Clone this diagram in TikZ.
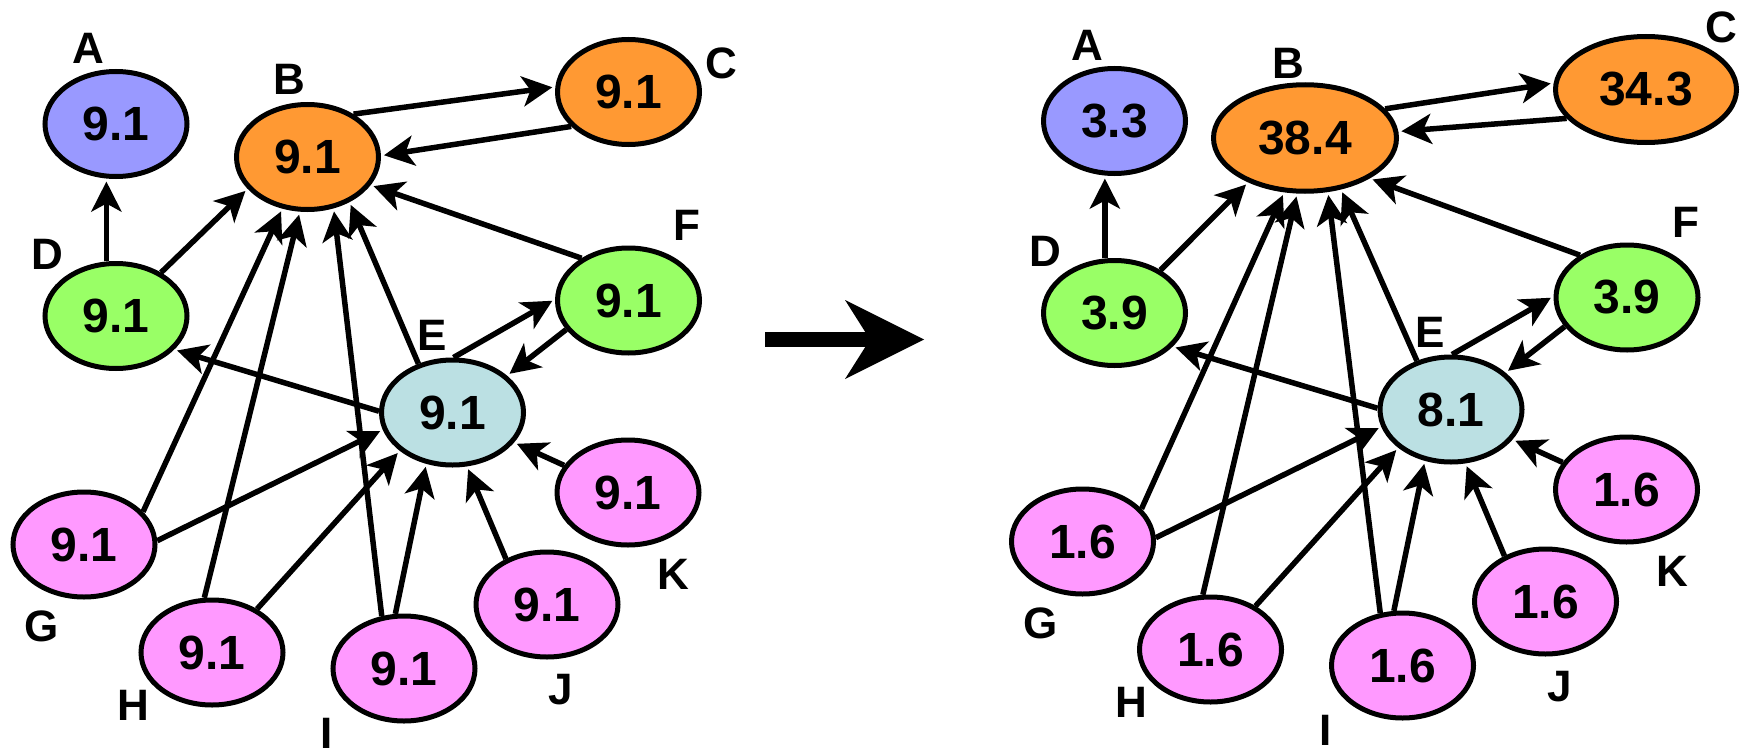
\documentclass[tikz,border=0pt]{standalone}
\usepackage{fontspec}
\setmainfont{Liberation Sans}
\usetikzlibrary{arrows.meta,shapes.geometric}
\definecolor{cA}{HTML}{9999FF}
\definecolor{cB}{HTML}{FF9933}
\definecolor{cD}{HTML}{99FF66}
\definecolor{cE}{HTML}{BBE0E3}
\definecolor{cG}{HTML}{FF99FF}
\begin{document}
\begin{tikzpicture}[x=1pt,y=-1pt,
  nd/.style={ellipse, draw=black, line width=5pt, inner sep=0pt,
    minimum width=142pt, minimum height=105pt,
    font=\fontsize{48}{48}\selectfont\bfseries},
  lbl/.style={inner sep=0pt, font=\fontsize{44}{44}\selectfont\bfseries},
  edge/.style={line width=5.5pt, shorten >=3pt,
    -{Stealth[length=30pt,width=30pt,inset=8pt]}}]
\useasboundingbox (0,0) rectangle (1742,752);

% ---------- left graph ----------
\node[nd, fill=cA] (LA) at (116,124) {9.1};
\node[nd, fill=cB] (LB) at (307.5,157) {9.1};
\node[nd, fill=cB] (LC) at (628.5,92) {9.1};
\node[nd, fill=cD] (LD) at (116,316) {9.1};
\node[nd, fill=cE] (LE) at (452.5,412.5) {9.1};
\node[nd, fill=cD] (LF) at (628.5,300.5) {9.1};
\node[nd, fill=cG] (LG) at (84,544.5) {9.1};
\node[nd, fill=cG] (LH) at (212,652.5) {9.1};
\node[nd, fill=cG] (LI) at (404,668.5) {9.1};
\node[nd, fill=cG] (LJ) at (547,604.5) {9.1};
\node[nd, fill=cG] (LK) at (628,492.5) {9.1};

\node[lbl] (lLA) at (88.5,48) {A};
\node[lbl] (lLB) at (289.5,79) {B};
\node[lbl] (lLC) at (721,63) {C};
\node[lbl] (lLD) at (47,254) {D};
\node[lbl] (lLE) at (432,335) {E};
\node[lbl] (lLF) at (687,225.5) {F};
\node[lbl] (lLG) at (41.7,626.7) {G};
\node[lbl] (lLH) at (133,705.5) {H};
\node[lbl] (lLI) at (327,733) {I};
\node[lbl] (lLJ) at (561,690) {J};
\node[lbl] (lLK) at (673.6,574) {K};

\draw[edge] (LD.100) -- (LA.260);
\draw[edge] (LD.44) -- (LB.208.6);
\draw[edge] (LG.29.3) -- (LB.244.7);
\draw[edge] (LH.98.8) -- (LB.262.8);
\draw[edge] (LI.113.7) -- (LB.297.4);
\draw[edge] (LE.125.9) -- (LB.313.7);
\draw[edge] (LF.138) -- (LB.336.1);
\draw[edge] (LC.211.1) -- (LB.1.5);
\draw[edge] (LB.43.9) -- (LC.176.9);
\draw[edge] (LE.179.4) -- (LD.330.7);
\draw[edge] (LE.89.2) -- (LF.179.6);
\draw[edge] (LF.205.6) -- (LE.34.6);
\draw[edge] (LG.3.5) -- (LE.194.5);
\draw[edge] (LH.44.5) -- (LE.216.7);
\draw[edge] (LI.99.3) -- (LE.243.1);
\draw[edge] (LJ.132.9) -- (LE.285.6);
\draw[edge] (LK.157.8) -- (LE.334.1);

% ---------- big arrow ----------
\fill[black] (765,331.7) rectangle (872,347.3);
\fill[black] (845,300) -- (924,339.5) -- (845,379) -- (870,339.5) -- cycle;

% ---------- right graph ----------
\node[nd, fill=cA] (RA) at (1114.5,121) {3.3};
\node[nd, fill=cB, minimum width=183pt, minimum height=106.5pt] (RB) at (1305,138) {38.4};
\node[nd, fill=cB, minimum width=181pt, minimum height=106pt] (RC) at (1646,89.5) {34.3};
\node[nd, fill=cD] (RD) at (1114.5,313) {3.9};
\node[nd, fill=cE] (RE) at (1451,409.5) {8.1};
\node[nd, fill=cD] (RF) at (1627,297.5) {3.9};
\node[nd, fill=cG] (RG) at (1082.5,541.5) {1.6};
\node[nd, fill=cG] (RH) at (1210.5,649.5) {1.6};
\node[nd, fill=cG] (RI) at (1402.5,665.5) {1.6};
\node[nd, fill=cG] (RJ) at (1545.5,601.5) {1.6};
\node[nd, fill=cG] (RK) at (1626.5,489.5) {1.6};

\node[lbl] (lRA) at (1087,45) {A};
\node[lbl] (lRB) at (1288.5,63.5) {B};
\node[lbl] (lRC) at (1721,27) {C};
\node[lbl] (lRD) at (1045.5,251) {D};
\node[lbl] (lRE) at (1430.5,332) {E};
\node[lbl] (lRF) at (1685.5,222.5) {F};
\node[lbl] (lRG) at (1040.2,623.7) {G};
\node[lbl] (lRH) at (1131.5,702.5) {H};
\node[lbl] (lRI) at (1325.5,730) {I};
\node[lbl] (lRJ) at (1559.5,687) {J};
\node[lbl] (lRK) at (1672,571) {K};

\draw[edge] (RD.100) -- (RA.260);
\draw[edge] (RD.43.8) -- (RB.218.6);
\draw[edge] (RG.29.3) -- (RB.249.9);
\draw[edge] (RH.98.8) -- (RB.262.4);
\draw[edge] (RI.113.7) -- (RB.293.1);
\draw[edge] (RE.125.9) -- (RB.305.4);
\draw[edge] (RF.138) -- (RB.328.2);
\draw[edge] (RC.200.1) -- (RB.4.8);
\draw[edge] (RB.20.7) -- (RC.176.2);
\draw[edge] (RE.179.4) -- (RD.330.7);
\draw[edge] (RE.89.2) -- (RF.179.6);
\draw[edge] (RF.205.6) -- (RE.34.6);
\draw[edge] (RG.3.5) -- (RE.194.5);
\draw[edge] (RH.44.5) -- (RE.216.7);
\draw[edge] (RI.99.3) -- (RE.243.1);
\draw[edge] (RJ.132.9) -- (RE.285.6);
\draw[edge] (RK.157.8) -- (RE.334.1);
\end{tikzpicture}
\end{document}
